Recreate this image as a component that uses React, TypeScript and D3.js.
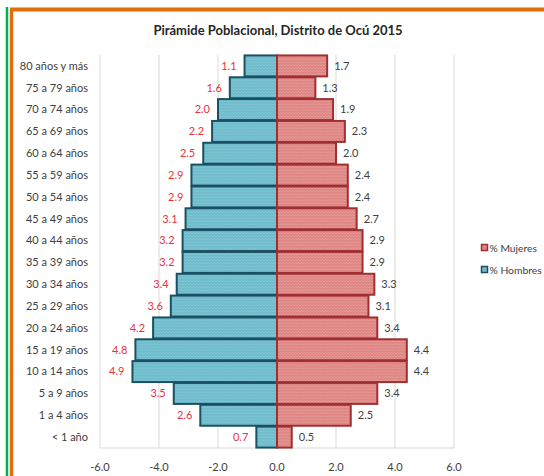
import React from "react";
import * as d3 from "d3";

const categories = [
  "80 años y más", "75 a 79 años", "70 a 74 años", "65 a 69 años", "60 a 64 años",
  "55 a 59 años", "50 a 54 años", "45 a 49 años", "40 a 44 años", "35 a 39 años",
  "30 a 34 años", "25 a 29 años", "20 a 24 años", "15 a 19 años", "10 a 14 años",
  "5 a 9 años", "1 a 4 años", "< 1 año",
];
const hombres = [1.1, 1.6, 2.0, 2.2, 2.5, 2.9, 2.9, 3.1, 3.2, 3.2, 3.4, 3.6, 4.2, 4.8, 4.9, 3.5, 2.6, 0.7];
const mujeres = [1.7, 1.3, 1.9, 2.3, 2.0, 2.4, 2.4, 2.7, 2.9, 2.9, 3.3, 3.1, 3.4, 4.4, 4.4, 3.4, 2.5, 0.5];
const xTicks = [-6, -4, -2, 0, 2, 4, 6];
const title = "Pirámide Poblacional, Distrito de Ocú 2015";
const legendItems = ["% Mujeres", "% Hombres"];

export default function App() {
  const x = d3.scaleLinear().domain([-6, 6]).range([100, 454]);
  const y = d3.scaleBand<string>().domain(categories).range([55, 448]).paddingInner(0.04).paddingOuter(0.02);
  const font = "Lato, 'Open Sans', sans-serif";
  const blueFill = "#6fbccd";
  const blueStroke = "#1b4f62";
  const redFill = "#de8784";
  const redStroke = "#a02f32";
  const bw = y.bandwidth();
  return (
    <svg width={544} height={476} style={{ position: "absolute", left: 0, top: 0 }} fontFamily={font}>
      <defs>
        <pattern id="texB" width={3} height={3} patternUnits="userSpaceOnUse">
          <rect width={3} height={3} fill={blueFill} />
          <path d="M0,3 L1.5,1.5 L3,3" stroke="#8ccbd9" strokeWidth={0.6} fill="none" />
        </pattern>
        <pattern id="texR" width={3} height={3} patternUnits="userSpaceOnUse">
          <rect width={3} height={3} fill={redFill} />
          <path d="M0,3 L1.5,1.5 L3,3" stroke="#e9a3a0" strokeWidth={0.6} fill="none" />
        </pattern>
      </defs>
      <rect x={0} y={0} width={544} height={476} fill="#fff" />
      <line x1={7} y1={7} x2={7} y2={476} stroke="#00b050" strokeWidth={2.5} />
      <line x1={11.5} y1={9.5} x2={11.5} y2={476} stroke="#e46c0a" strokeWidth={3.5} />
      <line x1={10} y1={9.5} x2={544} y2={9.5} stroke="#e46c0a" strokeWidth={4} />
      <text x={278} y={35} textAnchor="middle" fontSize={13} fontWeight="bold" fill="#262626">{title}</text>
      {xTicks.map((t) => (
        <line key={t} x1={x(t)} x2={x(t)} y1={55} y2={448} stroke="#d9d9d9" strokeWidth={1} />
      ))}
      <line x1={100} x2={454} y1={448} y2={448} stroke="#d9d9d9" strokeWidth={1} />
      {categories.map((c, i) => (
        <g key={c}>
          <rect x={x(-hombres[i])} y={y(c)!} width={x(0) - x(-hombres[i])} height={bw} fill="url(#texB)" stroke={blueStroke} strokeWidth={2} />
          <rect x={x(0)} y={y(c)!} width={x(mujeres[i]) - x(0)} height={bw} fill="url(#texR)" stroke={redStroke} strokeWidth={2} />
        </g>
      ))}
      {categories.map((c, i) => (
        <g key={"l" + c} fontSize={11}>
          <text x={x(-hombres[i]) - 8} y={y(c)! + bw / 2} dy="0.35em" textAnchor="end" fill="#e8323c">{hombres[i].toFixed(1)}</text>
          <text x={x(mujeres[i]) + 7} y={y(c)! + bw / 2} dy="0.35em" textAnchor="start" fill="#404040">{mujeres[i].toFixed(1)}</text>
          <text x={88} y={y(c)! + bw / 2} dy="0.35em" textAnchor="end" fill="#404040">{c}</text>
        </g>
      ))}
      {xTicks.map((t) => (
        <text key={"t" + t} x={x(t)} y={467} dy="0.35em" textAnchor="middle" fontSize={11} fill="#404040">{t.toFixed(1)}</text>
      ))}
      {legendItems.map((l, i) => (
        <g key={l}>
          <rect x={481.5} y={244.5 + i * 22} width={6} height={6} fill={i === 0 ? redFill : blueFill} stroke={i === 0 ? redStroke : blueStroke} strokeWidth={1.5} />
          <text x={489.5} y={248 + i * 22} dy="0.35em" fontSize={10.3} fill="#404040">{l}</text>
        </g>
      ))}
    </svg>
  );
}
